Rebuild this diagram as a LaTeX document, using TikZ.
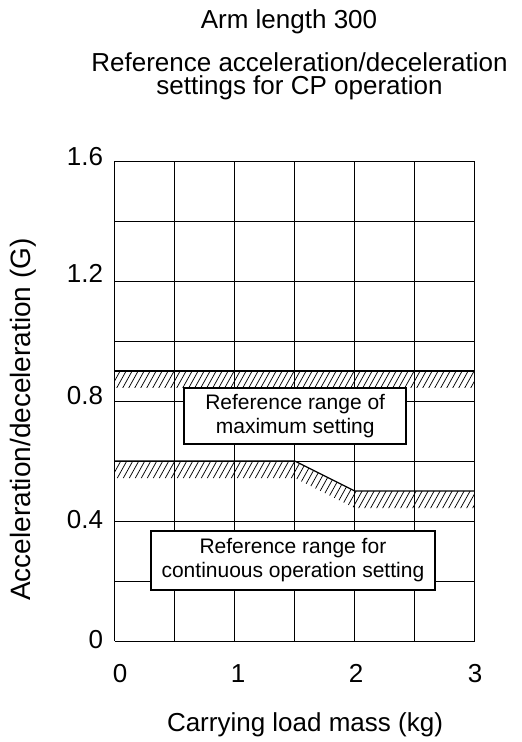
\documentclass[tikz,border=0pt]{standalone}
\usepackage{fontspec}
\setmainfont{Liberation Sans}
\begin{document}
\begin{tikzpicture}[x=0.75pt,y=-0.75pt,
  gridline/.style={draw=black,line width=0.75pt},
  bandline/.style={draw=black,line width=0.9pt},
  hatchline/.style={draw=black,line width=0.55pt},
  labelbox/.style={draw=black,fill=white,line width=1.5pt,align=center,
    font=\fontsize{15.75}{18}\selectfont,inner sep=0pt},
  ticklabel/.style={font=\fontsize{19.5}{22}\selectfont,inner sep=0pt},
  titletext/.style={font=\fontsize{19.5}{22}\selectfont,inner sep=0pt}]
\useasboundingbox (0,0) rectangle (521,742);
% titles
\node[titletext,anchor=base] (t1) at (289,28.3) {Arm length 300};
\node[titletext,anchor=base] (t2) at (299.5,71) {Reference acceleration/deceleration};
\node[titletext,anchor=base] (t3) at (299.5,94.5) {settings for CP operation};
% grid
\foreach \i in {0,...,6} \draw[gridline] ({114.7+60*\i},161) -- ({114.7+60*\i},641);
\foreach \j in {0,...,8} \draw[gridline] (114.7,{161+60*\j}) -- (474.7,{161+60*\j});
% upper band hatch
\begin{scope}
\clip (114.7,371) -- (474.7,371) -- (474.7,387) -- (114.7,387) -- cycle;
\foreach \x in {80,86,...,480} \draw[hatchline] (\x,400) -- ++(20,-36);
\end{scope}
\draw[bandline] (114.7,371) -- (474.7,371);
% lower band hatch
\begin{scope}
\clip (114.7,461) -- (294.7,461) -- (354.7,491) -- (474.7,491) -- (474.7,508) -- (354.7,508) -- (294.7,478) -- (114.7,478) -- cycle;
\foreach \x in {70,76,...,480} \draw[hatchline] (\x,520) -- ++(40,-72);
\end{scope}
\draw[bandline] (114.7,461) -- (294.7,461) -- (354.7,491) -- (474.7,491);
% boxes
\node[labelbox,minimum width=221.7*0.75pt,minimum height=55.7*0.75pt] (maxbox) at (295.2,416.2)
  {Reference range of\\maximum setting};
\node[labelbox,minimum width=284.3*0.75pt,minimum height=59.3*0.75pt] (contbox) at (292.9,560.3)
  {Reference range for\\continuous operation setting};
% y tick labels
\node[ticklabel,anchor=base east] (y16) at (103.3,165) {1.6};
\node[ticklabel,anchor=base east] (y12) at (103.3,282) {1.2};
\node[ticklabel,anchor=base east] (y08) at (103.3,404) {0.8};
\node[ticklabel,anchor=base east] (y04) at (103.3,528) {0.4};
\node[ticklabel,anchor=base east] (y00) at (103.3,648) {0};
% x tick labels
\node[ticklabel,anchor=base] (x0) at (120,682) {0};
\node[ticklabel,anchor=base] (x1) at (238,682) {1};
\node[ticklabel,anchor=base] (x2) at (356,682) {2};
\node[ticklabel,anchor=base] (x3) at (475,682) {3};
% axis titles
\node[titletext,anchor=base] (xlabel) at (305,731) {Carrying load mass (kg)};
\node[font=\fontsize{21}{24}\selectfont,inner sep=0pt,rotate=90,anchor=base] (ylabel) at (31,419.5) {Acceleration/deceleration (G)};
\end{tikzpicture}
\end{document}
